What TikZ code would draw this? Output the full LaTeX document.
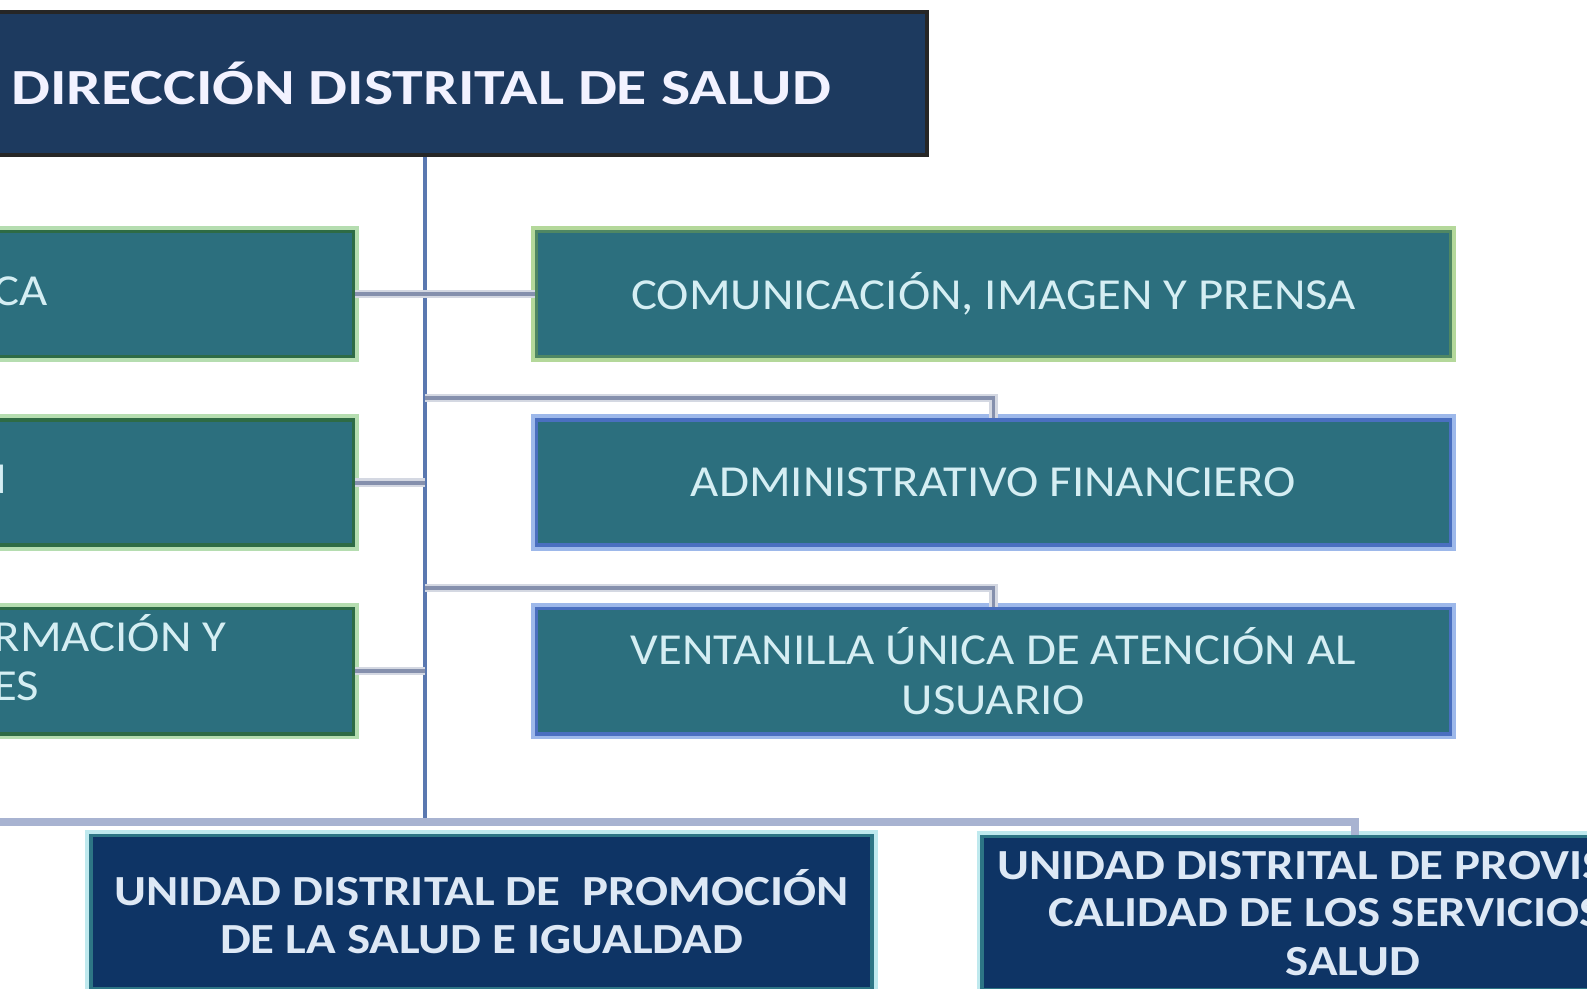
\documentclass[tikz,border=0pt]{standalone}
\usepackage{fontspec}
\setmainfont{Carlito}
\newfontfamily\headfont[FakeStretch=1.22]{Carlito}
\newfontfamily\areafont[FakeStretch=1.1]{Carlito}
\newfontfamily\unitfont[FakeStretch=1.14]{Carlito}
\usetikzlibrary{positioning}

\definecolor{headnavy}{HTML}{1D3A5F}
\definecolor{areateal}{HTML}{2C6F7E}
\definecolor{areatext}{HTML}{D5EEF3}
\definecolor{darkgreen}{HTML}{2E6B45}
\definecolor{palegreen}{HTML}{B5DDB0}
\definecolor{sagegreen}{HTML}{4F8763}
\definecolor{limegreen}{HTML}{B4D89A}
\definecolor{edgeblue}{HTML}{4A6FC0}
\definecolor{paleblue}{HTML}{9DB8EA}
\definecolor{unitnavy}{HTML}{0E3465}
\definecolor{unitedge}{HTML}{2D7585}
\definecolor{unitglow}{HTML}{BFE9EE}
\definecolor{unittext}{HTML}{DDE8F5}
\definecolor{trunkblue}{HTML}{5A78B0}
\definecolor{branchgray}{HTML}{8590AD}
\definecolor{buslight}{HTML}{A8B3D1}

\tikzset{
  head/.style={rectangle, fill=headnavy, draw=black!85, line width=1.1pt,
               minimum width=10.12cm, minimum height=1.43cm,
               text=white!95!blue, font=\headfont\bfseries\fontsize{14.4}{17}\selectfont},
  area/.style 2 args={rectangle, fill=areateal, draw=#1, line width=1pt,
               preaction={draw=#2, line width=3.2pt},
               minimum width=9.13cm, minimum height=1.25cm, align=center,
               text=areatext, font=\areafont\fontsize{12.6}{14}\selectfont},
  areafrag/.style={inner sep=0pt, text=areatext, font=\areafont\fontsize{12.6}{14}\selectfont},
  unit/.style={rectangle, fill=unitnavy, draw=unitedge, line width=1pt,
               preaction={draw=unitglow, line width=3pt},
               minimum height=1.53cm, align=center,
               text=unittext, font=\unitfont\bfseries\fontsize{12.2}{13.6}\selectfont},
  unitfrag/.style={inner sep=0pt, text=unittext, font=\unitfont\bfseries\fontsize{12.2}{13.6}\selectfont},
  trunk/.style={draw=trunkblue, line width=1.3pt},
  branch/.style={draw=branchgray, line width=1.1pt,
                 preaction={draw=branchgray!35, line width=2.4pt}},
  bus/.style={draw=buslight, line width=2pt}
}

\begin{document}
\begin{tikzpicture}[x=0.01cm, y=-0.01cm, node distance=0.6cm]
  \newcommand{\busY}{822}
  \newcommand{\capHalf}{14}

  \path[use as bounding box, clip] (0,0) rectangle (1587,989);
  \fill[white] (0,0) rectangle (1587,989);

  % Head of the district
  \node[head] (direccion) at (421,83.5) {DIRECCIÓN DISTRITAL DE SALUD};

  % Right column of support areas
  \node[area={sagegreen}{limegreen}] (comunicacion) at (993.5,294)
       {COMUNICACIÓN, IMAGEN Y PRENSA};
  \node[area={edgeblue}{paleblue}, below=of comunicacion] (administrativo)
       {ADMINISTRATIVO FINANCIERO};
  \node[area={edgeblue}{paleblue}, below=of administrativo] (ventanilla)
       {VENTANILLA ÚNICA DE ATENCIÓN AL\\USUARIO};

  % Left column, cut by the picture border
  \node[area={darkgreen}{palegreen}] (asesoria) at (-103.5,294) {};
  \node[area={darkgreen}{palegreen}, below=of asesoria] (planificacion) {};
  \node[area={darkgreen}{palegreen}, below=of planificacion] (tecnologias) {};
  \node[areafrag, anchor=base east] (asesoriaTxt) at (48,292+\capHalf) {CA};
  \node[areafrag, anchor=base east] (planificacionTxt) at (8,480+\capHalf) {N};
  \node[areafrag, anchor=base east] (tecnologiasTxtA) at (227,638+\capHalf) {RMACIÓN Y};
  \node[areafrag, anchor=base east] (tecnologiasTxtB) at (40,687+\capHalf) {ES};

  % District units
  \node[unit, minimum width=7.81cm] (promocion) at (481.5,912)
       {UNIDAD DISTRITAL DE \ PROMOCIÓN\\DE LA SALUD E IGUALDAD};
  \node[unit, minimum width=7.46cm] (provision) at (1355,913) {};
  \node[unitfrag, anchor=base west] (provisionTxtA) at (997,866+\capHalf)
       {UNIDAD DISTRITAL DE PROVIS};
  \node[unitfrag, anchor=base west] (provisionTxtB) at (1048,913+\capHalf)
       {CALIDAD DE LOS SERVICIOS};
  \node[unitfrag, anchor=base] (provisionTxtC) at (1353,962+\capHalf) {SALUD};

  % Connectors
  \coordinate (trunkTop) at ([xshift=0.04cm]direccion.south);
  \coordinate (trunkEnd) at (trunkTop |- 0,\busY);
  \coordinate (busWest) at (-300,\busY);
  \draw[trunk] (trunkTop) -- (trunkEnd);
  \draw[branch] (asesoria.east) -- (comunicacion.west);
  \draw[branch] (planificacion.east) -- (planificacion.east -| trunkTop);
  \draw[branch] (tecnologias.east) -- (tecnologias.east -| trunkTop);
  \draw[branch] (trunkTop |- 0,398) -| (administrativo.north);
  \draw[branch] (trunkTop |- 0,588) -| (ventanilla.north);
  \draw[bus] (busWest) -| (provision.north);
\end{tikzpicture}
\end{document}
